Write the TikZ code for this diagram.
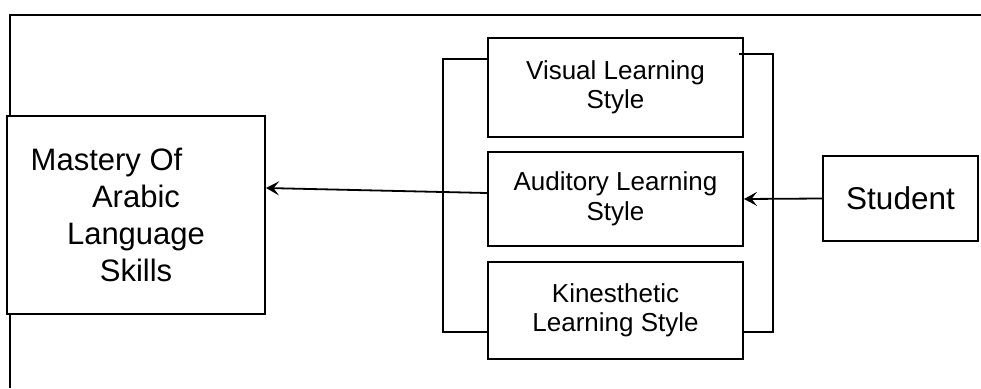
\documentclass[tikz,border=0pt]{standalone}
\usepackage{fontspec}
\setmainfont{Liberation Sans}
\usetikzlibrary{arrows.meta}
\begin{document}
\begin{tikzpicture}[x=1pt,y=-1pt,
  line width=2pt,
  box/.style={draw,fill=white,inner sep=0pt,align=center},
  bigtxt/.style={font=\fontsize{31}{37}\selectfont},
  smalltxt/.style={font=\fontsize{26}{29.5}\selectfont},
  arr/.style={-{Stealth[length=13pt,width=14pt,inset=5.5pt]},line width=1.8pt}]
\useasboundingbox (0,0) rectangle (981,388);
% partial outer frame
\coordinate (fb) at (10,388);
\coordinate (ftl) at (10,15);
\coordinate (ftr) at (981,15);
\draw (fb) -- (ftl) -- (ftr);
% nodes
\node[box,bigtxt,minimum width=258pt,minimum height=198pt] (mast) at (136,215)
  {Mastery Of\hspace*{59pt}\\Arabic\\Language\\Skills};
\node[box,smalltxt,minimum width=255pt,minimum height=99pt] (vis) at (615.5,87.5)
  {Visual Learning\\Style};
\node[box,smalltxt,minimum width=255pt,minimum height=94pt] (aud) at (615.5,199)
  {Auditory Learning\\Style};
\node[box,smalltxt,minimum width=255pt,minimum height=97pt] (kin) at (615.5,310.5)
  {Kinesthetic\\Learning Style};
\node[box,font=\fontsize{31.5}{36}\selectfont,minimum width=155pt,minimum height=85pt] (stu) at (900.5,198.5)
  {Student};
% brackets
\coordinate (lt) at (443,59);
\coordinate (lb) at (443,332);
\coordinate (rtin) at (739,54);
\coordinate (rt) at (773,54);
\coordinate (rb) at (773,332);
\draw (vis.west |- lt) -- (lt) -- (lb) -- (kin.west |- lb);
\draw (rtin) -- (rt) -- (rb) -- (kin.east |- rb);
% arrows
\draw[arr] ([yshift=6pt]aud.west) -- ([yshift=27pt]mast.east);
\draw[arr] (stu.west) -- (aud.east);
\end{tikzpicture}
\end{document}
